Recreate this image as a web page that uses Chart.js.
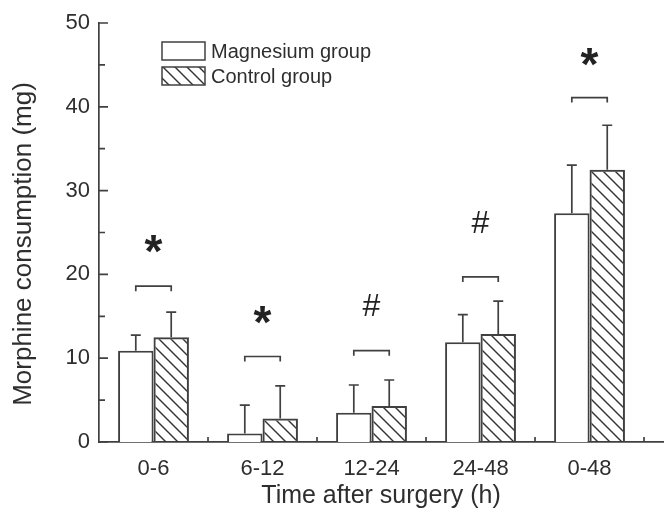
<!DOCTYPE html>
<html>
<head>
<meta charset="utf-8">
<script src="https://cdn.jsdelivr.net/npm/chart.js@4.4.0/dist/chart.umd.min.js"></script>
<style>
  html, body { margin: 0; padding: 0; background: #fff; }
</style>
</head>
<body>
<canvas id="chart" width="672" height="517"></canvas>
<script>
// values (mg), upper error bar length = SD
const periods = ['0-6', '6-12', '12-24', '24-48', '0-48'];
const magnesium = [10.9, 1.0, 3.5, 11.9, 27.3];
const magnesiumSD = [1.85, 3.4, 3.3, 3.3, 5.75];
const control = [12.5, 2.8, 4.3, 12.9, 32.5];
const controlSD = [3.0, 3.9, 3.1, 3.9, 5.3];
const yTicks = [0, 10, 20, 30, 40, 50];
const sigMarks = ['*', '*', '#', '#', '*'];
const sigMarkLevel = [23.6, 15.2, 16.3, 26.2, 46.0];
const bracketLevel = [18.6, 10.2, 10.9, 19.7, 41.1];
const yTitle = 'Morphine consumption (mg)';

const FONT = '"Liberation Sans", Arial, sans-serif';
const TEXT = '#2e2e2e';
const LINE = '#404040';

const canvas = document.getElementById('chart');
const ctx = canvas.getContext('2d');

// diagonal hatch for the control bars
function makeHatch() {
    let c = document.createElement('canvas');
    c.width = 12;
    c.height = 12;
    let g = c.getContext('2d');
    g.strokeStyle = '#333';
    g.lineWidth = 1.4;
    g.beginPath();
    g.moveTo(-3, -3); g.lineTo(15, 15);
    g.moveTo(-3, 9); g.lineTo(3, 15);
    g.moveTo(9, -3); g.lineTo(15, 3);
    g.stroke();
    return ctx.createPattern(c, 'repeat');
}
const hatch = makeHatch();

const annotate = {
    id: 'annotate',
    afterDraw(chart) {
        let c = chart.ctx;
        let x = chart.scales.x;
        let y = chart.scales.y;
        let a = chart.chartArea;
        c.save();
        c.strokeStyle = LINE;
        c.lineWidth = 1.7;

        // axis ticks pointing inward
        c.beginPath();
        y.ticks.forEach(t => {
            let py = y.getPixelForValue(t.value);
            let len = yTicks.includes(t.value) ? 9 : 6;
            c.moveTo(a.left, py);
            c.lineTo(a.left + len, py);
        });
        periods.forEach((p, i) => {
            let px = x.getPixelForValue(i + 0.5);
            c.moveTo(px, a.bottom);
            c.lineTo(px, a.bottom - 5);
        });
        c.stroke();

        // upper error bars
        [[magnesium, magnesiumSD], [control, controlSD]].forEach((pair, d) => {
            let meta = chart.getDatasetMeta(d);
            meta.data.forEach((bar, i) => {
                let y0 = y.getPixelForValue(pair[0][i]);
                let y1 = y.getPixelForValue(pair[0][i] + pair[1][i]);
                c.beginPath();
                c.moveTo(bar.x, y0);
                c.lineTo(bar.x, y1);
                c.moveTo(bar.x - 5, y1);
                c.lineTo(bar.x + 5, y1);
                c.stroke();
            });
        });

        // brackets and significance marks
        periods.forEach((p, i) => {
            let xa = chart.getDatasetMeta(0).data[i].x;
            let xb = chart.getDatasetMeta(1).data[i].x;
            let yb = y.getPixelForValue(bracketLevel[i]);
            c.beginPath();
            c.moveTo(xa, yb + 5);
            c.lineTo(xa, yb);
            c.lineTo(xb, yb);
            c.lineTo(xb, yb + 5);
            c.stroke();

            let star = sigMarks[i] === '*';
            c.font = (star ? 'bold 46px ' : '32px ') + FONT;
            c.fillStyle = '#222';
            c.textAlign = 'center';
            c.textBaseline = 'alphabetic';
            let m = c.measureText(sigMarks[i]);
            let ym = y.getPixelForValue(sigMarkLevel[i]);
            c.fillText(sigMarks[i], x.getPixelForValue(i),
                ym + (m.actualBoundingBoxAscent - m.actualBoundingBoxDescent) / 2);
        });

        // legend
        c.lineWidth = 1.5;
        c.font = '20px ' + FONT;
        c.textAlign = 'left';
        c.textBaseline = 'middle';
        chart.data.datasets.forEach((ds, k) => {
            let bx = a.left + 63;
            let by = a.top + 19 + k * 25;
            c.fillStyle = ds.backgroundColor;
            c.fillRect(bx, by, 43, 18);
            c.strokeRect(bx, by, 43, 18);
            c.fillStyle = TEXT;
            c.fillText(ds.label, bx + 49, by + 10);
        });

        // y axis title, sits a little below the middle of the axis in the original
        c.translate(24, a.top + 221);
        c.rotate(-Math.PI / 2);
        c.font = '26px ' + FONT;
        c.textAlign = 'center';
        c.fillText(yTitle, 0, 0);
        c.restore();
    }
};

new Chart(ctx, {
    type: 'bar',
    data: {
        datasets: [{
            label: 'Magnesium group',
            data: magnesium.map((v, i) => ({ x: i, y: v })),
            backgroundColor: '#ffffff',
            borderColor: LINE,
            borderWidth: 2
        }, {
            label: 'Control group',
            data: control.map((v, i) => ({ x: i, y: v })),
            backgroundColor: hatch,
            borderColor: LINE,
            borderWidth: 2
        }]
    },
    options: {
        responsive: false,
        animation: false,
        datasets: { bar: { categoryPercentage: 0.65, barPercentage: 1.0 } },
        layout: { padding: { top: 23, right: 9, bottom: 0, left: 0 } },
        plugins: { legend: { display: false }, tooltip: { enabled: false } },
        scales: {
            x: {
                type: 'linear',
                offset: false,
                min: -0.5,
                max: 4.674,
                afterBuildTicks: s => { s.ticks = periods.map((p, i) => ({ value: i })); },
                afterFit: s => { s.height = 75; },
                grid: { display: false, drawTicks: false },
                border: { color: LINE, width: 1.7 },
                ticks: {
                    callback: v => periods[v],
                    autoSkip: false,
                    maxRotation: 0,
                    padding: 14,
                    color: TEXT,
                    font: { family: FONT, size: 22 }
                },
                title: {
                    display: true,
                    text: 'Time after surgery (h)',
                    color: TEXT,
                    font: { family: FONT, size: 25 },
                    padding: { top: 0, bottom: 6 }
                }
            },
            y: {
                min: 0,
                max: 50,
                afterFit: s => { s.width = 99; },
                grid: { display: false, drawTicks: false },
                border: { color: LINE, width: 1.7 },
                ticks: {
                    stepSize: 5,
                    callback: v => yTicks.includes(v) ? v : '',
                    padding: 9,
                    color: TEXT,
                    font: { family: FONT, size: 22 }
                }
            }
        }
    },
    plugins: [annotate]
});
</script>
</body>
</html>
